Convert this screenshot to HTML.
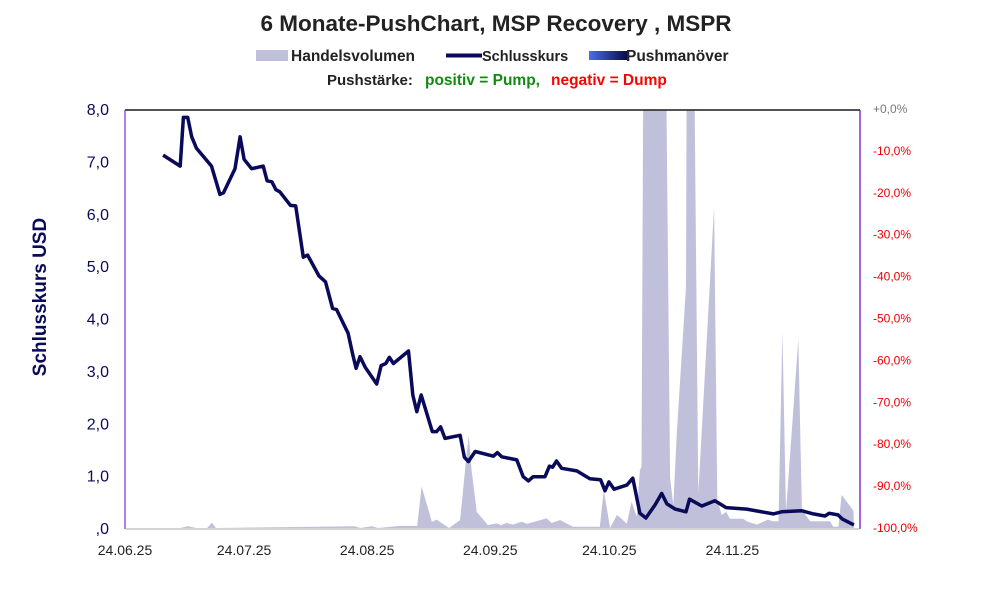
<!DOCTYPE html>
<html><head><meta charset="utf-8"><style>
body{margin:0;background:#fff;}
svg{display:block;font-family:"Liberation Sans",sans-serif;}
</style></head><body>
<svg id="chart" width="992" height="593">
<defs>
<clipPath id="plotclip"><rect x="125" y="110" width="735" height="419"/></clipPath>
<linearGradient id="pushgrad" x1="0" x2="1"><stop offset="0" stop-color="#4a6ee8"/><stop offset="1" stop-color="#0a0a4a"/></linearGradient>
</defs>
<text x="496" y="31" text-anchor="middle" font-size="22.5" font-weight="bold" fill="#222">6 Monate-PushChart, MSP Recovery , MSPR</text>
<g>
<rect x="256" y="50" width="32" height="11" fill="#c0c0db"/>
<text x="291" y="61" font-size="15.5" font-weight="bold" fill="#222">Handelsvolumen</text>
<line x1="446" y1="55.5" x2="482" y2="55.5" stroke="#0a0a5a" stroke-width="4"/>
<text x="482" y="61" font-size="14.5" font-weight="bold" fill="#222">Schlusskurs</text>
<rect x="589" y="51" width="38" height="9" fill="url(#pushgrad)"/>
<text x="626" y="61" font-size="15.5" font-weight="bold" fill="#222">Pushmanöver</text>
<text x="327" y="85" font-size="15" font-weight="bold" fill="#222">Pushstärke:</text>
<text x="425" y="85" font-size="15.5" font-weight="bold" fill="#128a12">positiv = Pump,</text>
<text x="551" y="85" font-size="15.5" font-weight="bold" fill="#ff0000">negativ = Dump</text>
</g>
<text transform="translate(46,297) rotate(-90)" text-anchor="middle" font-size="19" font-weight="bold" fill="#0a0a5a">Schlusskurs USD</text>
<g id="vol" clip-path="url(#plotclip)"></g>
<g id="price" clip-path="url(#plotclip)"></g>
<g id="axes"></g>
</svg>
<script>
const volDays=[0,13.9,15.9,17.9,20.7,21.9,22.9,57.9,59.2,62.2,63.7,69.3,73.6,74.7,77.3,78.5,81.6,84.4,86.1,86.6,87.3,88.6,91.4,93.6,94.7,96.1,97.7,99.9,101.3,106.2,107.5,109.6,112.8,119.6,120.6,122.2,123.9,125.1,126.4,127.6,128.9,129.7,130.1,130.6,136.2,137.3,138.1,139,141.3,141.5,143.3,144.4,148.4,149.2,150.3,151.4,152.4,155.7,156.6,159.1,162,163.2,164.6,165.6,166.5,169.6,170.5,172.6,177.6,178.4,179.7,180.5,183.5,183.6];
const volVals=[0,0,0.4,0,0,1.3,0,0.4,0,0.4,0,0.5,0.5,9.9,1.5,2,0,1.9,18,22,13.8,3.9,0.7,1.1,0.7,1.2,0.8,1.5,1,2.3,1.2,1.9,0.3,0.3,9,0,3.1,2.2,1,6.3,2.7,13.8,14.6,120,120,12,5.5,22.6,57.6,120,120,8.3,76.7,6.7,3.1,3.9,2.2,2.2,1.6,0.8,2,1.6,1.6,47,3.9,45,4.3,1.6,1.6,0.3,0.3,7.9,4.1,0];
const priceDays=[9.6,13.9,14.7,15.8,16.8,18,21.8,23.9,24.8,27.7,29,30,31.9,34.8,35.8,37,38,39,41.7,43,44.9,46,48.9,50.5,52.3,53.3,56.2,57.4,58.2,59.2,60.5,63.4,64.5,65.7,66.6,67.6,71.4,72.5,73.5,74.6,77.4,78.5,79.5,80.6,84.4,85.5,86.5,88.2,92.8,93.8,94.9,98.7,100.3,101.6,102.8,105.8,106.9,107.7,108.7,110,113.8,117.1,119.8,120.9,121.9,123.2,126.4,127.9,129.7,131.2,133.5,135.2,136.5,138.6,141.3,142.2,145.3,148.6,151.4,156.6,163.3,165.4,170.4,173.4,176.3,177.4,179.6,180.7,183.6];
const priceVals=[7.12,6.91,7.84,7.84,7.47,7.25,6.91,6.37,6.40,6.86,7.47,7.04,6.86,6.91,6.63,6.61,6.46,6.42,6.16,6.15,5.17,5.21,4.81,4.70,4.19,4.17,3.72,3.30,3.05,3.27,3.07,2.75,3.10,3.14,3.26,3.14,3.38,2.54,2.22,2.54,1.84,1.84,1.93,1.71,1.77,1.35,1.27,1.46,1.37,1.44,1.36,1.30,0.98,0.90,0.98,0.98,1.18,1.16,1.28,1.14,1.09,0.94,0.92,0.71,0.88,0.74,0.82,0.95,0.28,0.19,0.44,0.66,0.46,0.36,0.31,0.55,0.42,0.52,0.39,0.36,0.27,0.31,0.33,0.27,0.23,0.28,0.25,0.17,0.06];
const yTicks=["8,0","7,0","6,0","5,0","4,0","3,0","2,0","1,0",",0"];
const yTickVals=[8,7,6,5,4,3,2,1,0];
const rTicks=["+0,0%","-10,0%","-20,0%","-30,0%","-40,0%","-50,0%","-60,0%","-70,0%","-80,0%","-90,0%","-100,0%"];
const rTickVals=[0,-10,-20,-30,-40,-50,-60,-70,-80,-90,-100];
const xTicks=["24.06.25","24.07.25","24.08.25","24.09.25","24.10.25","24.11.25"];
const xTickDays=[0,30,61,92,122,153];

const NS="http://www.w3.org/2000/svg";
const X0=125,X1=860,Y0=528,YT=109;
const xs=d=>X0+d*3.97;
const ys=v=>Y0-(v/8)*(Y0-YT);
const yr=p=>Y0-((p+100)/100)*(Y0-YT);
const yv=v=>Y0-(v/100)*(Y0-YT);
function mk(tag,attrs,parent){const e=document.createElementNS(NS,tag);for(const k in attrs)e.setAttribute(k,attrs[k]);parent.appendChild(e);return e;}

const vg=document.getElementById('vol');
let d="M"+xs(volDays[0])+","+Y0;
volDays.forEach((dd,i)=>{d+=" L"+xs(dd).toFixed(1)+","+yv(volVals[i]).toFixed(1);});
d+=" L"+xs(volDays[volDays.length-1])+","+Y0+" Z";
const va=mk('path',{d:d,fill:"#c0c0db"},vg);



const pg=document.getElementById('price');
const pts=priceDays.map((dd,i)=>xs(dd).toFixed(1)+","+ys(priceVals[i]).toFixed(1)).join(" ");
const pl=mk('polyline',{points:pts,fill:"none",stroke:"#0a0a5a","stroke-width":3.5,"stroke-linejoin":"round"},pg);



const ag=document.getElementById('axes');
const topBorder=mk('line',{x1:X0,y1:110,x2:X1,y2:110,stroke:"#1a1a1a","stroke-width":1.5},ag);


const la=mk('line',{x1:X0,y1:110,x2:X0,y2:529,stroke:"#6a00cc","stroke-width":1},ag);


const ra=mk('line',{x1:X1,y1:110,x2:X1,y2:529,stroke:"#6a00cc","stroke-width":1.2},ag);


const ba=mk('line',{x1:X0,y1:529,x2:X1,y2:529,stroke:"#aaaaaa","stroke-width":1},ag);



yTicks.forEach((t,i)=>{
  const e=mk('text',{x:109,y:ys(yTickVals[i])+6,"text-anchor":"end","font-size":16,fill:"#0a0a5a"},ag);
  e.textContent=t;
  
  
});
rTicks.forEach((t,i)=>{
  const e=mk('text',{x:873,y:yr(rTickVals[i])+4,"font-size":12,fill:i===0?"#777":"#ee0000"},ag);
  e.textContent=t;
  
  
});
xTicks.forEach((t,i)=>{
  const e=mk('text',{x:xs(xTickDays[i]),y:555,"text-anchor":"middle","font-size":14,fill:"#222"},ag);
  e.textContent=t;
  
  
});
</script>
</body></html>
